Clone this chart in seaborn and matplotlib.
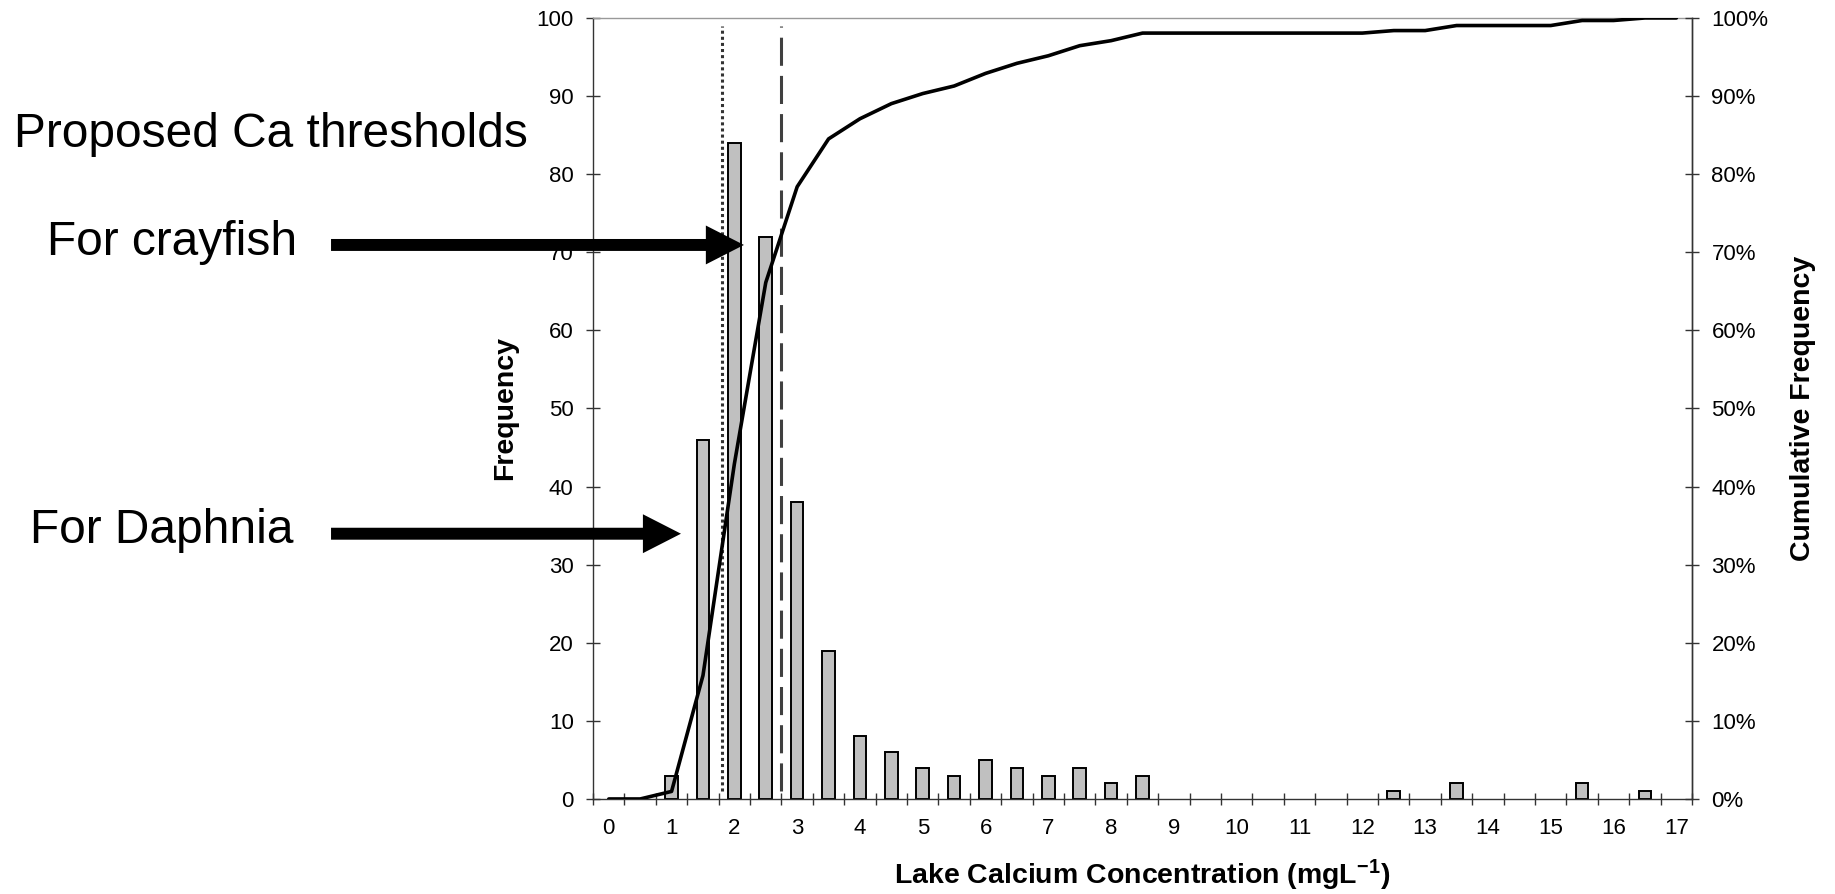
import numpy as np
import pandas as pd
import seaborn as sns
import matplotlib.pyplot as plt
from matplotlib.ticker import FixedLocator, FuncFormatter

# lake calcium histogram, 0.5 mg/L classes
ca_bins = [0, 0.5, 1, 1.5, 2, 2.5, 3, 3.5, 4, 4.5, 5, 5.5, 6, 6.5, 7, 7.5, 8, 8.5,
           9, 9.5, 10, 10.5, 11, 11.5, 12, 12.5, 13, 13.5, 14, 14.5, 15, 15.5, 16, 16.5, 17]
lake_counts = [0, 0, 3, 46, 84, 72, 38, 19, 8, 6, 4, 3, 5, 4, 3, 4, 2, 3,
               0, 0, 0, 0, 0, 0, 0, 1, 0, 2, 0, 0, 0, 2, 0, 1, 0]
x_labels = [str(i) for i in range(18)]
freq_ticks = [0, 10, 20, 30, 40, 50, 60, 70, 80, 90, 100]
cum_ticks = [0, 0.1, 0.2, 0.3, 0.4, 0.5, 0.6, 0.7, 0.8, 0.9, 1.0]

dotted_thr = 1.8    # dotted threshold line
dashed_thr = 2.75   # dashed threshold line

df = pd.DataFrame({'ca': ca_bins, 'n': lake_counts})
df['cum'] = df['n'].cumsum() / df['n'].sum()

sns.set_style('ticks')
plt.rcParams['font.family'] = ['Liberation Sans', 'DejaVu Sans']
plt.rcParams['mathtext.fontset'] = 'custom'
plt.rcParams['mathtext.rm'] = 'Liberation Sans:bold'
plt.rcParams['mathtext.default'] = 'rm'
plt.rcParams['text.color'] = 'black'
plt.rcParams['axes.labelcolor'] = 'black'
plt.rcParams['xtick.color'] = 'black'
plt.rcParams['ytick.color'] = 'black'

axcol = '#333333'
fig = plt.figure(figsize=(18.35, 8.94), dpi=100)
ax = fig.add_axes([0.3232, 0.1063, 0.5989, 0.8736])

# empty classes have no visible bar
sns.barplot(data=df[df['n'] > 0], x='ca', y='n', native_scale=True, width=0.4,
            color='#c0c0c0', saturation=1, edgecolor='black', linewidth=1.4,
            errorbar=None, ax=ax)
ax.vlines(dotted_thr, 1, 99, colors='#333333', linestyles=(0, (1, 1)), lw=2.2)
ax.vlines(dashed_thr, 1, 99, colors='#404040', linestyles=(0, (9.2, 3.3)), lw=2.2)

ax.set_xlim(-0.25, 17.25)
ax.set_ylim(0, 100)
ax.set_xticks(range(18))
ax.set_xticklabels(x_labels)
ax.xaxis.set_minor_locator(FixedLocator(np.arange(-0.25, 17.3, 0.5)))
ax.tick_params(axis='x', which='major', length=0, pad=14, labelsize=16)
ax.tick_params(axis='x', which='minor', direction='inout', length=8.6, width=1, color=axcol)
ax.set_yticks(freq_ticks)
ax.tick_params(axis='y', direction='inout', length=10, width=1, color=axcol, pad=9, labelsize=16)

ax2 = ax.twinx()
sns.lineplot(data=df, x='ca', y='cum', color='black', lw=2.6, ax=ax2)
ax2.set_ylim(0, 1)
ax2.set_yticks(cum_ticks)
ax2.yaxis.set_major_formatter(FuncFormatter(lambda v, p: f'{int(round(v * 100))}%'))
ax2.tick_params(axis='y', direction='inout', length=10, width=1, color=axcol, pad=9, labelsize=16)

for s in ['left', 'bottom', 'right']:
    ax.spines[s].set_color(axcol)
    ax.spines[s].set_linewidth(1)
ax.spines['top'].set_color('#999999')
ax.spines['top'].set_linewidth(1)
for s in ['left', 'bottom', 'top']:
    ax2.spines[s].set_visible(False)
ax2.spines['right'].set_color(axcol)
ax2.spines['right'].set_linewidth(1)

ax.set_xlabel('Lake Calcium Concentration (mgL$^{-1}$)', fontsize=20.5, fontweight='bold')
ax.xaxis.set_label_coords(0.5, -0.098)
ax.xaxis.label.set_verticalalignment('center')
ax.set_ylabel('Frequency', fontsize=20.5, fontweight='bold')
ax.yaxis.set_label_coords(-0.080, 0.5)
ax.yaxis.label.set_verticalalignment('center')
ax2.set_ylabel('Cumulative Frequency', fontsize=20.5, fontweight='bold')
ax2.yaxis.set_label_coords(1.101, 0.5)
ax2.yaxis.label.set_verticalalignment('center')

fig.text(0.0076, 0.849, 'Proposed Ca thresholds', fontsize=34.5, va='center', ha='left')
fig.text(0.0256, 0.729, 'For crayfish', fontsize=34.5, va='center', ha='left')
fig.text(0.0163, 0.407, 'For Daphnia', fontsize=34.5, va='center', ha='left')

arrow_kw = dict(arrowstyle='simple,head_length=1.37,head_width=1.4,tail_width=0.43',
                mutation_scale=20, fc='black', ec='none', shrinkA=0, shrinkB=0)
ax2.annotate('', xy=(0.4054, 0.726), xytext=(0.1804, 0.726), xycoords='figure fraction',
             textcoords='figure fraction', arrowprops=arrow_kw, annotation_clip=False)
ax2.annotate('', xy=(0.3711, 0.403), xytext=(0.1804, 0.403), xycoords='figure fraction',
             textcoords='figure fraction', arrowprops=arrow_kw, annotation_clip=False)

fig.savefig('out.png', dpi=100)
